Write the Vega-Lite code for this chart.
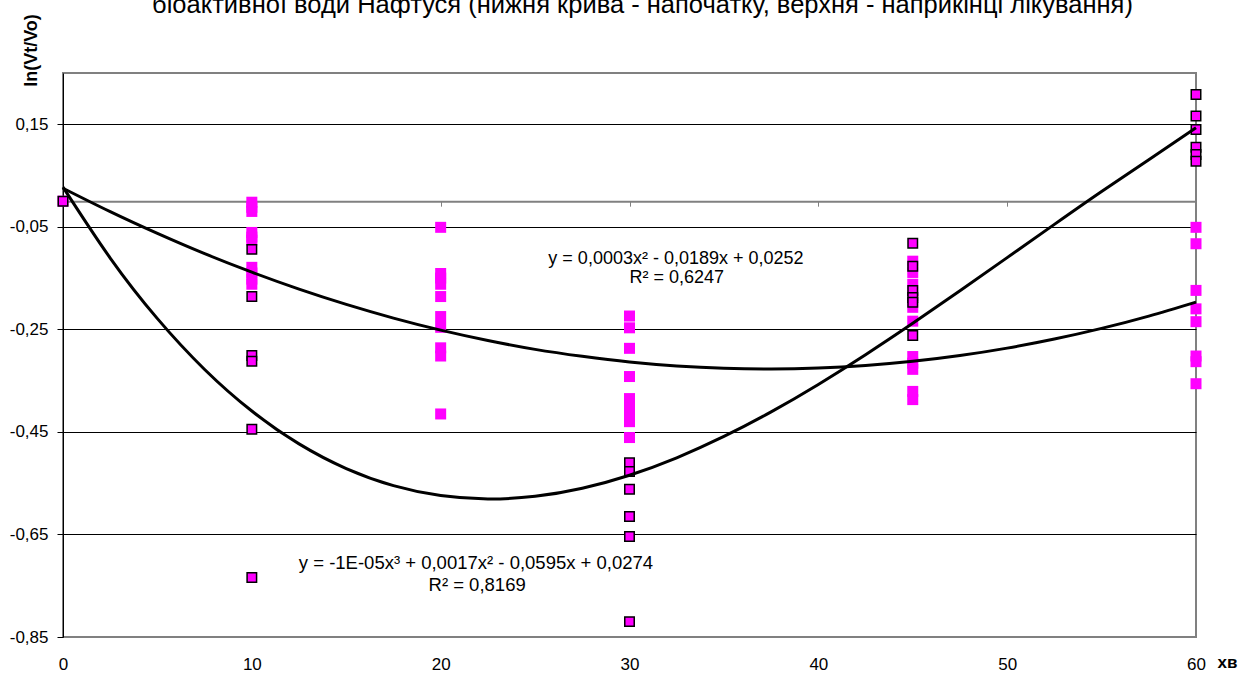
{
  "$schema": "https://vega.github.io/schema/vega-lite/v6.json",
  "width": 1133,
  "height": 564,
  "autosize": {"type": "none"},
  "padding": {"left": 63, "top": 73, "right": 53, "bottom": 38},
  "background": "white",
  "config": {
    "font": "Liberation Sans",
    "view": {"stroke": "#808080", "strokeWidth": 2}
  },
  "title": {
    "text": "біоактивної води Нафтуся (нижня крива - напочатку, верхня - наприкінці лікування)",
    "font": "Liberation Sans",
    "fontSize": 25.5,
    "fontWeight": "normal",
    "color": "black",
    "anchor": "middle",
    "baseline": "alphabetic",
    "offset": -25,
    "dx": 13
  },
  "datasets": {
    "points": [
      {"t": 0, "v": 0.0, "g": "наприкінці"},
      {"t": 10, "v": -0.002, "g": "наприкінці"},
      {"t": 10, "v": -0.012, "g": "наприкінці"},
      {"t": 10, "v": -0.020, "g": "наприкінці"},
      {"t": 10, "v": -0.061, "g": "наприкінці"},
      {"t": 10, "v": -0.070, "g": "наприкінці"},
      {"t": 10, "v": -0.076, "g": "наприкінці"},
      {"t": 10, "v": -0.129, "g": "наприкінці"},
      {"t": 10, "v": -0.140, "g": "наприкінці"},
      {"t": 10, "v": -0.152, "g": "наприкінці"},
      {"t": 10, "v": -0.162, "g": "наприкінці"},
      {"t": 20, "v": -0.051, "g": "наприкінці"},
      {"t": 20, "v": -0.141, "g": "наприкінці"},
      {"t": 20, "v": -0.150, "g": "наприкінці"},
      {"t": 20, "v": -0.162, "g": "наприкінці"},
      {"t": 20, "v": -0.186, "g": "наприкінці"},
      {"t": 20, "v": -0.225, "g": "наприкінці"},
      {"t": 20, "v": -0.246, "g": "наприкінці"},
      {"t": 20, "v": -0.286, "g": "наприкінці"},
      {"t": 20, "v": -0.302, "g": "наприкінці"},
      {"t": 20, "v": -0.415, "g": "наприкінці"},
      {"t": 30, "v": -0.224, "g": "наприкінці"},
      {"t": 30, "v": -0.247, "g": "наприкінці"},
      {"t": 30, "v": -0.287, "g": "наприкінці"},
      {"t": 30, "v": -0.342, "g": "наприкінці"},
      {"t": 30, "v": -0.385, "g": "наприкінці"},
      {"t": 30, "v": -0.400, "g": "наприкінці"},
      {"t": 30, "v": -0.416, "g": "наприкінці"},
      {"t": 30, "v": -0.430, "g": "наприкінці"},
      {"t": 30, "v": -0.461, "g": "наприкінці"},
      {"t": 45, "v": -0.117, "g": "наприкінці"},
      {"t": 45, "v": -0.139, "g": "наприкінці"},
      {"t": 45, "v": -0.162, "g": "наприкінці"},
      {"t": 45, "v": -0.184, "g": "наприкінці"},
      {"t": 45, "v": -0.207, "g": "наприкінці"},
      {"t": 45, "v": -0.234, "g": "наприкінці"},
      {"t": 45, "v": -0.303, "g": "наприкінці"},
      {"t": 45, "v": -0.316, "g": "наприкінці"},
      {"t": 45, "v": -0.328, "g": "наприкінці"},
      {"t": 45, "v": -0.371, "g": "наприкінці"},
      {"t": 45, "v": -0.387, "g": "наприкінці"},
      {"t": 60, "v": -0.051, "g": "наприкінці"},
      {"t": 60, "v": -0.083, "g": "наприкінці"},
      {"t": 60, "v": -0.174, "g": "наприкінці"},
      {"t": 60, "v": -0.210, "g": "наприкінці"},
      {"t": 60, "v": -0.235, "g": "наприкінці"},
      {"t": 60, "v": -0.302, "g": "наприкінці"},
      {"t": 60, "v": -0.313, "g": "наприкінці"},
      {"t": 60, "v": -0.356, "g": "наприкінці"},
      {"t": 0, "v": 0.0, "g": "напочатку"},
      {"t": 10, "v": -0.094, "g": "напочатку"},
      {"t": 10, "v": -0.186, "g": "напочатку"},
      {"t": 10, "v": -0.301, "g": "напочатку"},
      {"t": 10, "v": -0.312, "g": "напочатку"},
      {"t": 10, "v": -0.445, "g": "напочатку"},
      {"t": 10, "v": -0.734, "g": "напочатку"},
      {"t": 30, "v": -0.510, "g": "напочатку"},
      {"t": 30, "v": -0.527, "g": "напочатку"},
      {"t": 30, "v": -0.562, "g": "напочатку"},
      {"t": 30, "v": -0.615, "g": "напочатку"},
      {"t": 30, "v": -0.654, "g": "напочатку"},
      {"t": 30, "v": -0.820, "g": "напочатку"},
      {"t": 45, "v": -0.082, "g": "напочатку"},
      {"t": 45, "v": -0.127, "g": "напочатку"},
      {"t": 45, "v": -0.174, "g": "напочатку"},
      {"t": 45, "v": -0.188, "g": "напочатку"},
      {"t": 45, "v": -0.197, "g": "напочатку"},
      {"t": 45, "v": -0.262, "g": "напочатку"},
      {"t": 60, "v": 0.208, "g": "напочатку"},
      {"t": 60, "v": 0.166, "g": "напочатку"},
      {"t": 60, "v": 0.140, "g": "напочатку"},
      {"t": 60, "v": 0.105, "g": "напочатку"},
      {"t": 60, "v": 0.091, "g": "напочатку"},
      {"t": 60, "v": 0.078, "g": "напочатку"}
    ],
    "curves": [
      {"t": 0, "v": 0.0274, "g": "cubic"},
      {"t": 2.5, "v": -0.1109, "g": "cubic"},
      {"t": 5, "v": -0.2291, "g": "cubic"},
      {"t": 7.5, "v": -0.3282, "g": "cubic"},
      {"t": 10, "v": -0.4093, "g": "cubic"},
      {"t": 12.5, "v": -0.4734, "g": "cubic"},
      {"t": 15, "v": -0.5215, "g": "cubic"},
      {"t": 17.5, "v": -0.5548, "g": "cubic"},
      {"t": 20, "v": -0.5742, "g": "cubic"},
      {"t": 22.5, "v": -0.5808, "g": "cubic"},
      {"t": 25, "v": -0.5757, "g": "cubic"},
      {"t": 27.5, "v": -0.5599, "g": "cubic"},
      {"t": 30, "v": -0.5345, "g": "cubic"},
      {"t": 32.5, "v": -0.5005, "g": "cubic"},
      {"t": 35, "v": -0.4589, "g": "cubic"},
      {"t": 37.5, "v": -0.4109, "g": "cubic"},
      {"t": 40, "v": -0.3574, "g": "cubic"},
      {"t": 42.5, "v": -0.2995, "g": "cubic"},
      {"t": 45, "v": -0.2383, "g": "cubic"},
      {"t": 47.5, "v": -0.1748, "g": "cubic"},
      {"t": 50, "v": -0.1101, "g": "cubic"},
      {"t": 52.5, "v": -0.0452, "g": "cubic"},
      {"t": 55, "v": 0.0189, "g": "cubic"},
      {"t": 57.5, "v": 0.0810, "g": "cubic"},
      {"t": 60, "v": 0.1430, "g": "cubic"},
      {"t": 0, "v": 0.0252, "g": "quad"},
      {"t": 2.5, "v": -0.0205, "g": "quad"},
      {"t": 5, "v": -0.0630, "g": "quad"},
      {"t": 7.5, "v": -0.1025, "g": "quad"},
      {"t": 10, "v": -0.1385, "g": "quad"},
      {"t": 12.5, "v": -0.1715, "g": "quad"},
      {"t": 15, "v": -0.2013, "g": "quad"},
      {"t": 17.5, "v": -0.2280, "g": "quad"},
      {"t": 20, "v": -0.2515, "g": "quad"},
      {"t": 22.5, "v": -0.2717, "g": "quad"},
      {"t": 25, "v": -0.2890, "g": "quad"},
      {"t": 27.5, "v": -0.3026, "g": "quad"},
      {"t": 30, "v": -0.3138, "g": "quad"},
      {"t": 32.5, "v": -0.3215, "g": "quad"},
      {"t": 35, "v": -0.3260, "g": "quad"},
      {"t": 37.5, "v": -0.3274, "g": "quad"},
      {"t": 40, "v": -0.3255, "g": "quad"},
      {"t": 42.5, "v": -0.3205, "g": "quad"},
      {"t": 45, "v": -0.3124, "g": "quad"},
      {"t": 47.5, "v": -0.3011, "g": "quad"},
      {"t": 50, "v": -0.2866, "g": "quad"},
      {"t": 52.5, "v": -0.2689, "g": "quad"},
      {"t": 55, "v": -0.2481, "g": "quad"},
      {"t": 57.5, "v": -0.2241, "g": "quad"},
      {"t": 60, "v": -0.1969, "g": "quad"}
    ]
  },
  "layer": [
    {
      "data": {"name": "points"},
      "transform": [{"filter": "datum.g == 'наприкінці'"}],
      "mark": {"type": "point", "shape": "square", "filled": true, "color": "#FF00FF", "size": 121, "opacity": 1},
      "encoding": {
        "x": {
          "field": "t", "type": "quantitative",
          "scale": {"domain": [0, 60], "nice": false, "zero": false},
          "axis": {
            "title": "хв",
            "values": [0, 10, 20, 30, 40, 50, 60],
            "grid": false,
            "domainColor": "#808080",
            "domainWidth": 2,
            "tickColor": "#808080",
            "tickSize": 5,
            "tickWidth": 1,
            "labelFontSize": 17,
            "labelColor": "black",
            "labelFlush": false,
            "labelOverlap": false,
            "offset": {"expr": "scale('y', 0) - height"},
            "labelPadding": {"expr": "height - scale('y', 0) + 14.6"},
            "titleX": 1164,
            "titleY": 461,
            "titleFontSize": 17,
            "titleFontWeight": "bold",
            "titleColor": "black",
            "titleAlign": "center",
            "titleBaseline": "middle"
          }
        },
        "y": {
          "field": "v", "type": "quantitative",
          "scale": {"domain": [-0.85, 0.25], "nice": false, "zero": false},
          "axis": {
            "title": "ln(Vt/Vo)",
            "values": [-0.85, -0.65, -0.45, -0.25, -0.05, 0.15],
            "labelExpr": "replace(replace(format(datum.value, '.2f'), '.', ','), '−', '-')",
            "grid": true,
            "gridColor": {"condition": {"test": "datum.value < -0.8", "value": "#808080"}, "value": "black"},
            "gridWidth": 1,
            "domainColor": "black",
            "domainWidth": 1,
            "tickColor": "black",
            "tickSize": 6,
            "labelPadding": 9,
            "labelFontSize": 17,
            "labelColor": "black",
            "titleFontSize": 18,
            "titleFontWeight": "bold",
            "titleColor": "black",
            "titleAngle": 270,
            "titleX": -32,
            "titleY": -23,
            "titleAlign": "center",
            "titleBaseline": "middle"
          }
        }
      }
    },
    {
      "data": {"name": "points"},
      "transform": [{"filter": "datum.g == 'напочатку'"}],
      "mark": {"type": "point", "shape": "square", "filled": true, "fill": "#FF00FF", "stroke": "black", "strokeWidth": 1.5, "size": 90, "opacity": 1},
      "encoding": {
        "x": {"field": "t", "type": "quantitative"},
        "y": {"field": "v", "type": "quantitative"}
      }
    },
    {
      "data": {"name": "curves"},
      "mark": {"type": "line", "color": "black", "strokeWidth": 3, "interpolate": "natural"},
      "encoding": {
        "x": {"field": "t", "type": "quantitative"},
        "y": {"field": "v", "type": "quantitative"},
        "detail": {"field": "g"}
      }
    },
    {
      "data": {"values": [{}]},
      "mark": {"type": "text", "text": "y = 0,0003x² - 0,0189x + 0,0252", "fontSize": 18, "align": "center", "baseline": "alphabetic", "color": "black"},
      "encoding": {"x": {"datum": 32.46}, "y": {"datum": -0.122}}
    },
    {
      "data": {"values": [{}]},
      "mark": {"type": "text", "text": "R² = 0,6247", "fontSize": 18, "align": "center", "baseline": "alphabetic", "color": "black"},
      "encoding": {"x": {"datum": 32.5}, "y": {"datum": -0.160}}
    },
    {
      "data": {"values": [{}]},
      "mark": {"type": "text", "text": "y = -1E-05x³ + 0,0017x² - 0,0595x + 0,0274", "fontSize": 18.5, "align": "center", "baseline": "alphabetic", "color": "black"},
      "encoding": {"x": {"datum": 21.87}, "y": {"datum": -0.718}}
    },
    {
      "data": {"values": [{}]},
      "mark": {"type": "text", "text": "R² = 0,8169", "fontSize": 18.5, "align": "center", "baseline": "alphabetic", "color": "black"},
      "encoding": {"x": {"datum": 21.93}, "y": {"datum": -0.761}}
    }
  ]
}
